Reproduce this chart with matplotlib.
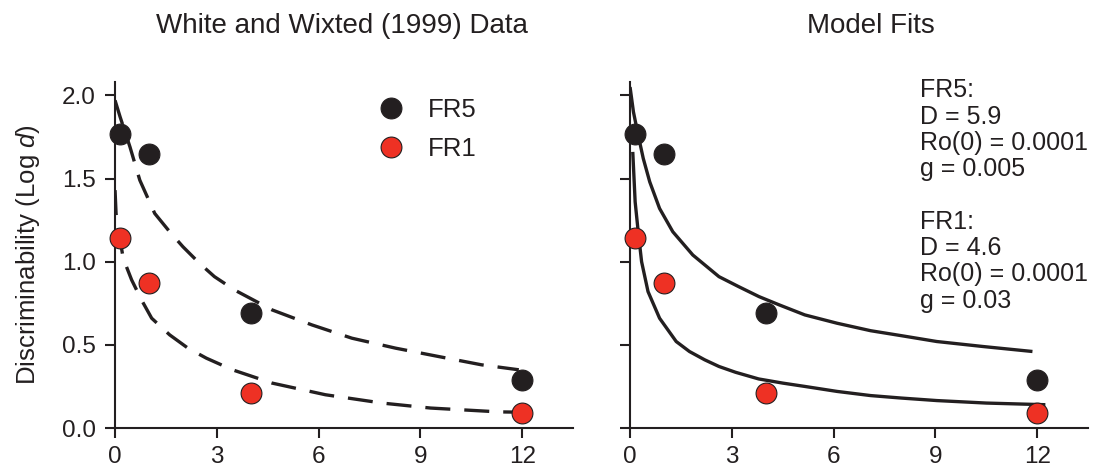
import matplotlib
matplotlib.use("Agg")
import matplotlib.pyplot as plt
from matplotlib.lines import Line2D

plt.rcParams['font.family'] = ['Liberation Sans', 'DejaVu Sans']
plt.rcParams['mathtext.fontset'] = 'custom'
plt.rcParams['mathtext.rm'] = 'Liberation Sans'
plt.rcParams['mathtext.it'] = 'Liberation Sans:italic'

# observed data (delay, log d)
x_data = [0.15, 1.0, 4.0, 12.0]
fr5_data = [1.77, 1.65, 0.69, 0.29]
fr1_data = [1.14, 0.87, 0.21, 0.09]

# dashed curves, left panel
fr5_dash_x = [0.0, 0.15, 0.44, 0.73, 1.17, 1.61, 2.0, 2.49, 2.93, 3.52, 4.63,
              5.8, 6.98, 8.27, 9.53, 10.8, 11.9]
fr5_dash_y = [1.97, 1.87, 1.69, 1.49, 1.29, 1.18, 1.09, 0.99, 0.91, 0.83, 0.71,
              0.62, 0.54, 0.48, 0.43, 0.38, 0.35]
fr1_dash_x = [0.0, 0.03, 0.2, 0.24, 0.49, 0.78, 1.08, 1.61, 2.15, 2.69, 3.46,
              4.63, 6.2, 7.87, 9.3, 11.3, 12.0]
fr1_dash_y = [1.43, 1.29, 1.07, 1.02, 0.89, 0.77, 0.66, 0.56, 0.48, 0.42, 0.35,
              0.27, 0.20, 0.15, 0.12, 0.097, 0.095]

# model fit curves, right panel
fr5_fit_x = [0.0, 0.1, 0.24, 0.39, 0.58, 0.87, 1.26, 1.85, 2.62, 3.2, 3.8,
             4.4, 5.15, 6.1, 7.09, 8.0, 9.04, 10.4, 11.86]
fr5_fit_y = [2.05, 1.90, 1.76, 1.62, 1.48, 1.32, 1.18, 1.04, 0.91, 0.85, 0.79,
             0.74, 0.68, 0.63, 0.585, 0.555, 0.52, 0.49, 0.46]
fr1_fit_x = [0.08, 0.15, 0.24, 0.34, 0.53, 0.87, 1.36, 1.75, 2.2, 2.62, 3.11,
             3.79, 4.5, 5.15, 6.1, 7.09, 8.0, 9.04, 10.5, 12.24]
fr1_fit_y = [1.66, 1.36, 1.18, 1.00, 0.82, 0.66, 0.52, 0.46, 0.41, 0.37, 0.335,
             0.295, 0.27, 0.25, 0.22, 0.195, 0.18, 0.165, 0.15, 0.14]

x_ticks = [0, 3, 6, 9, 12]
y_ticks = [0.0, 0.5, 1.0, 1.5, 2.0]

black = '#231f20'
red = '#ee3124'

fig = plt.figure(figsize=(11.04, 4.72), dpi=100)
ax1 = fig.add_axes([0.1042, 0.0932, 0.4149, 0.733])
ax2 = fig.add_axes([0.5707, 0.0932, 0.4149, 0.733])

for ax in (ax1, ax2):
    ax.set_xlim(0, 13.5)
    ax.set_ylim(0, 2.08)
    ax.set_xticks(x_ticks)
    ax.set_yticks(y_ticks)
    for s in ('top', 'right'):
        ax.spines[s].set_visible(False)
    for s in ('left', 'bottom'):
        ax.spines[s].set_linewidth(1.5)
        ax.spines[s].set_color(black)
    ax.tick_params(direction='out', length=7, width=1.5, color=black,
                   labelsize=17.5, labelcolor=black)
    ax.tick_params(axis='x', pad=6)
    ax.tick_params(axis='y', pad=7)

ax1.set_yticklabels(['0.0', '0.5', '1.0', '1.5', '2.0'])
ax2.set_yticklabels([])

mk = dict(marker='o', ms=15, mec=black, mew=0.8, ls='none', zorder=5, clip_on=False)

# left panel
ax1.plot(fr5_dash_x, fr5_dash_y, color=black, lw=2.4, dashes=(7.5, 4.2))
ax1.plot(fr1_dash_x, fr1_dash_y, color=black, lw=2.4, dashes=(7.5, 4.2))
ax1.plot(x_data, fr5_data, mfc=black, **mk)
ax1.plot(x_data, fr1_data, mfc=red, **mk)
ax1.set_ylabel('Discriminability (Log $\\it{d}$)', fontsize=18.5, color=black,
               labelpad=14)

handles = [Line2D([], [], marker='o', ms=15, mfc=black, mec=black, mew=0.8, ls='none'),
           Line2D([], [], marker='o', ms=15, mfc=red, mec=black, mew=0.8, ls='none')]
ax1.legend(handles, ['FR5', 'FR1'], loc='upper left', bbox_to_anchor=(0.495, 1.02),
           frameon=False, fontsize=18.5, handletextpad=0.45, labelspacing=0.58,
           labelcolor=black)

# right panel
ax2.plot(fr5_fit_x, fr5_fit_y, color=black, lw=2.4, solid_capstyle='butt',
         solid_joinstyle='round')
ax2.plot(fr1_fit_x, fr1_fit_y, color=black, lw=2.4, solid_capstyle='butt',
         solid_joinstyle='round')
ax2.plot(x_data, fr5_data, mfc=black, **mk)
ax2.plot(x_data, fr1_data, mfc=red, **mk)

params = ('FR5:\nD = 5.9\nRo(0) = 0.0001\ng = 0.005\n\n'
          'FR1:\nD = 4.6\nRo(0) = 0.0001\ng = 0.03')
fig.text(0.833, 0.834, params, ha='left', va='top', fontsize=18,
         color=black, linespacing=1.12)

fig.text(0.31, 0.945, 'White and Wixted (1999) Data', ha='center', va='center',
         fontsize=20, color=black)
fig.text(0.789, 0.945, 'Model Fits', ha='center', va='center',
         fontsize=20, color=black)

fig.savefig('out.png', dpi=100)
